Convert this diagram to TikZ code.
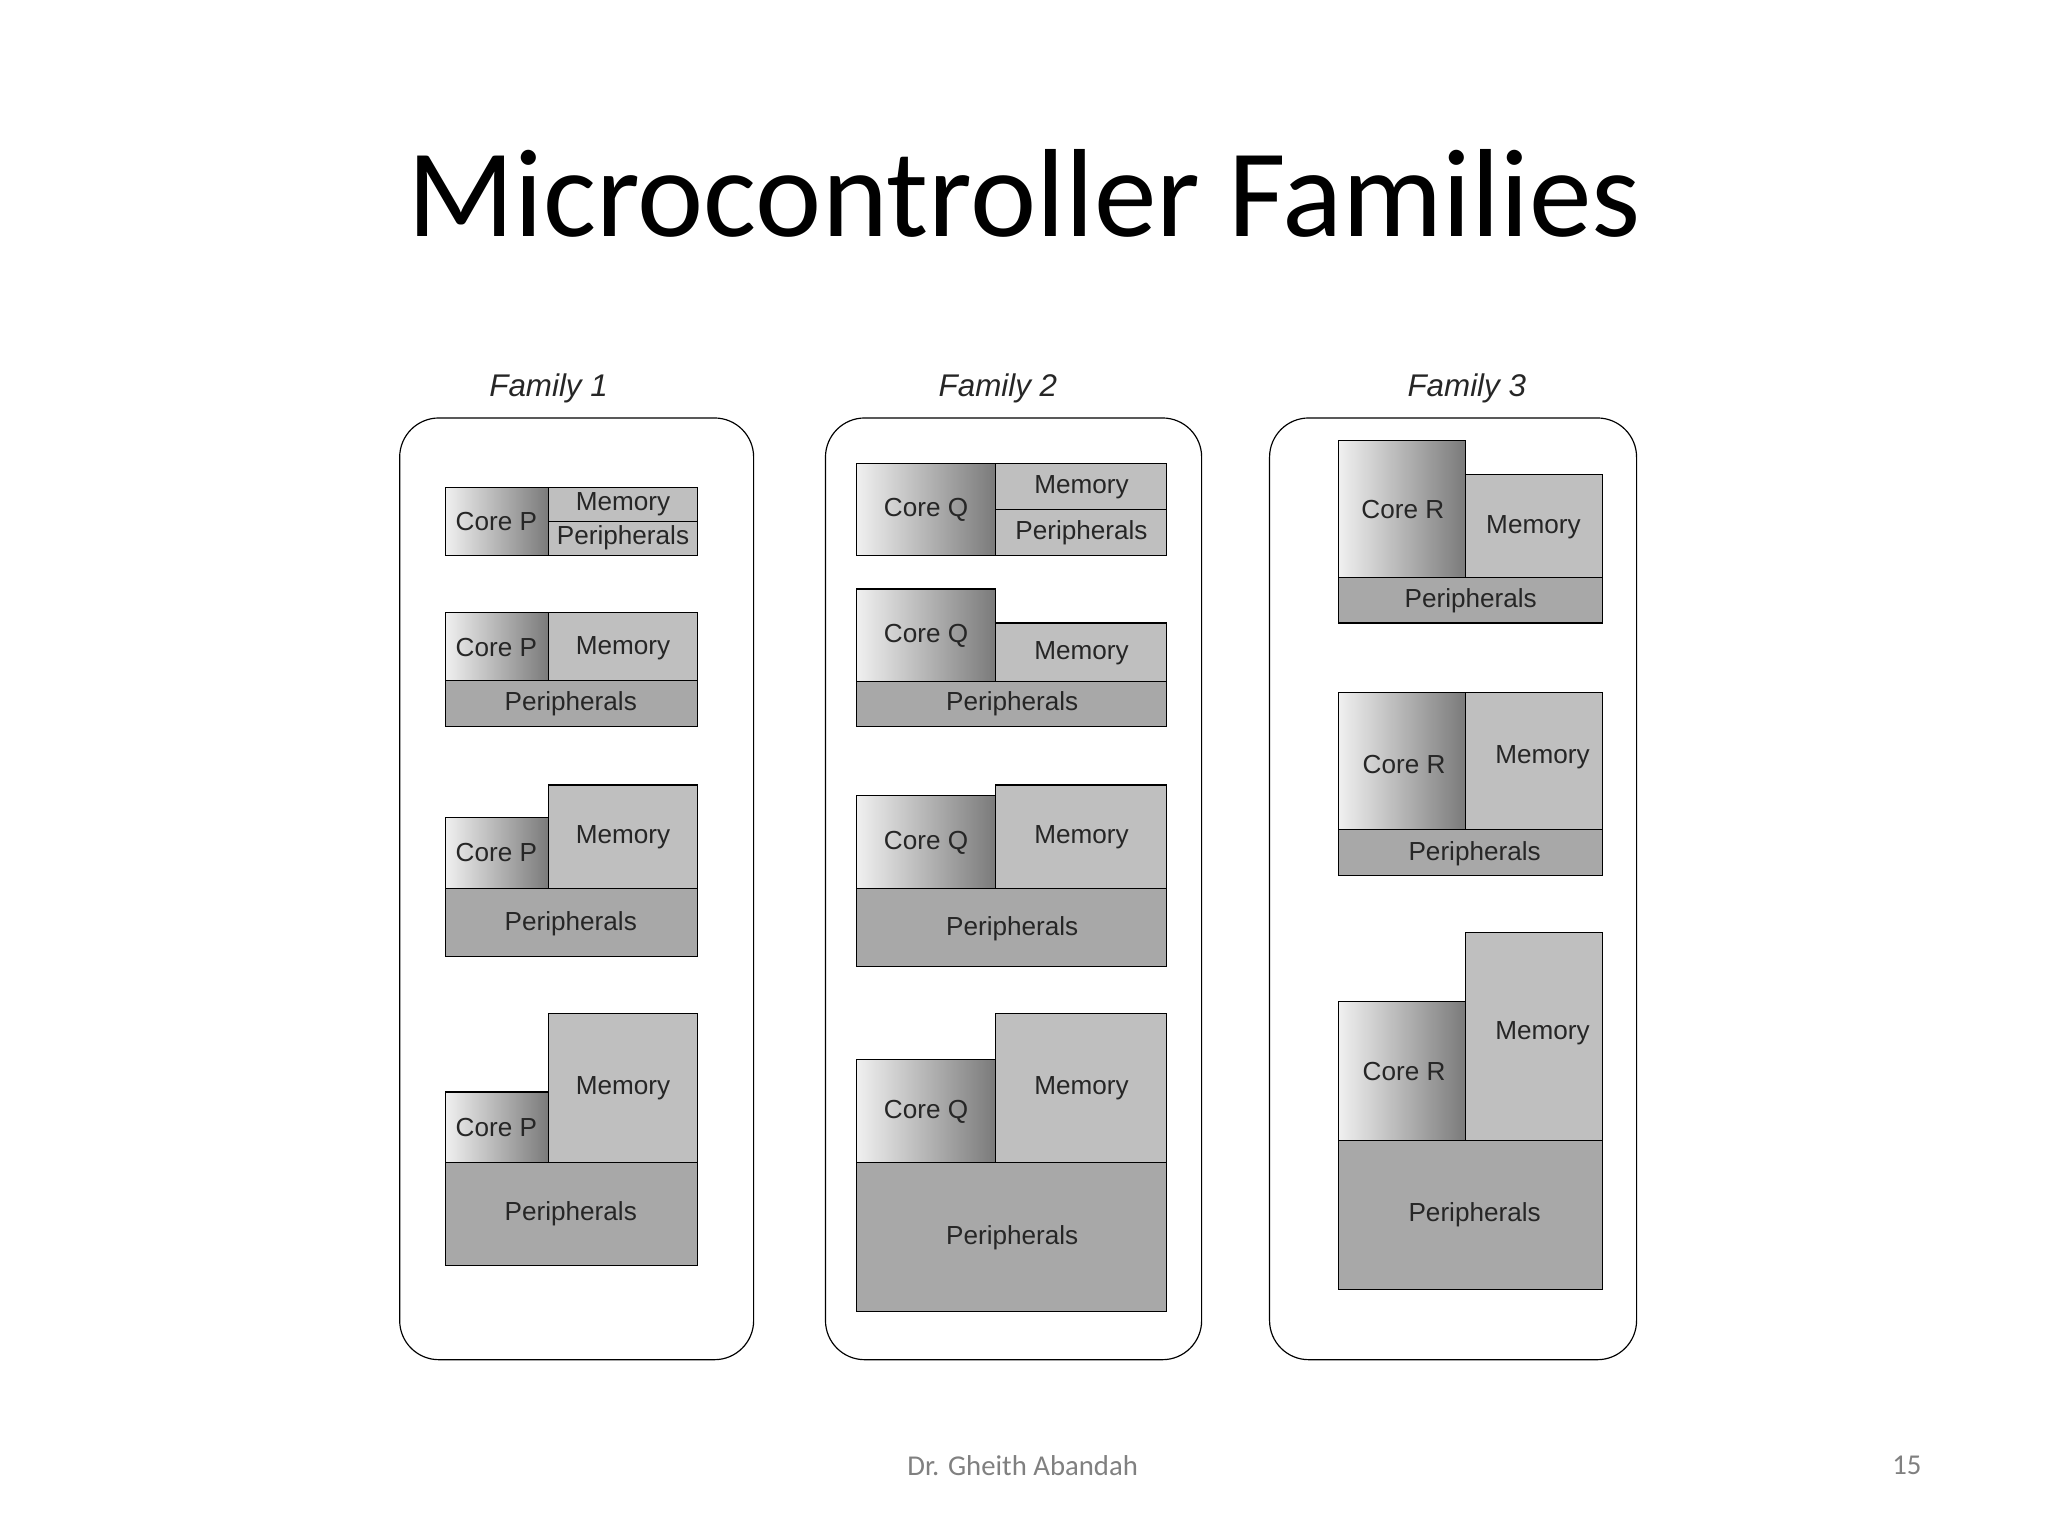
\documentclass[tikz,border=0pt]{standalone}
\usepackage{fontspec}
\setmainfont{Liberation Sans}
\newfontfamily\titlefont{Carlito}
\begin{document}
\begin{tikzpicture}[x=1pt,y=-1pt,
 core/.style={draw=black,line width=0.9pt,left color=gray!12,right color=gray!70!black!80},
 mem/.style={draw=black,line width=0.9pt,fill=gray!50},
 per/.style={draw=black,line width=0.9pt,fill=gray!68},
 fam/.style={draw=black,line width=0.9pt,rounded corners=30pt},
 lbl/.style={font=\fontsize{20}{22}\selectfont,text=black!85},
 flab/.style={font=\fontsize{24}{26}\selectfont\itshape,text=black!85}]
\useasboundingbox (0,0) rectangle (1568,1176);
\node[font=\titlefont\fontsize{96}{100}\selectfont] (title) at (784,148) {Microcontroller Families};
\node[flab] (f1) at (420,297) {Family 1};
\node[flab] (f2) at (764,297) {Family 2};
\node[flab] (f3) at (1123,297) {Family 3};
\draw[fam] (306,320) rectangle (577,1041);
\draw[fam] (632,320) rectangle (920,1041);
\draw[fam] (972,320) rectangle (1253,1041);
% Family 1
\draw[core] (341,373) rectangle (420,425); \draw[mem] (420,373) rectangle (534,399); \draw[mem] (420,399) rectangle (534,425);
\node[lbl] at (380,399) {Core P}; \node[lbl] at (477,386) {Memory}; \node[lbl] at (477,412) {Peripherals};
\draw[core] (341,469) rectangle (420,521); \draw[mem] (420,469) rectangle (534,521); \draw[per] (341,521) rectangle (534,556);
\node[lbl] at (380,496) {Core P}; \node[lbl] at (477,496) {Memory}; \node[lbl] at (437,539) {Peripherals};
\draw[core] (341,626) rectangle (420,680); \draw[mem] (420,601) rectangle (534,680); \draw[per] (341,680) rectangle (534,732);
\node[lbl] at (380,653) {Core P}; \node[lbl] at (477,641) {Memory}; \node[lbl] at (437,707) {Peripherals};
\draw[core] (341,836) rectangle (420,890); \draw[mem] (420,776) rectangle (534,890); \draw[per] (341,890) rectangle (534,969);
\node[lbl] at (380,863) {Core P}; \node[lbl] at (477,833) {Memory}; \node[lbl] at (437,929) {Peripherals};
% Family 2
\draw[core] (656,355) rectangle (762,425); \draw[mem] (762,355) rectangle (893,390); \draw[mem] (762,390) rectangle (893,425);
\node[lbl] at (709,390) {Core Q}; \node[lbl] at (828,373) {Memory}; \node[lbl] at (828,408) {Peripherals};
\draw[core] (656,451) rectangle (762,522); \draw[mem] (762,477) rectangle (893,522); \draw[per] (656,522) rectangle (893,556);
\node[lbl] at (709,487) {Core Q}; \node[lbl] at (828,500) {Memory}; \node[lbl] at (775,539) {Peripherals};
\draw[core] (656,609) rectangle (762,680); \draw[mem] (762,601) rectangle (893,680); \draw[per] (656,680) rectangle (893,740);
\node[lbl] at (709,645) {Core Q}; \node[lbl] at (828,641) {Memory}; \node[lbl] at (775,711) {Peripherals};
\draw[core] (656,811) rectangle (762,890); \draw[mem] (762,776) rectangle (893,890); \draw[per] (656,890) rectangle (893,1004);
\node[lbl] at (709,851) {Core Q}; \node[lbl] at (828,833) {Memory}; \node[lbl] at (775,948) {Peripherals};
% Family 3
\draw[core] (1025,337) rectangle (1122,442); \draw[mem] (1122,363) rectangle (1227,442); \draw[per] (1025,442) rectangle (1227,477);
\node[lbl] at (1074,390) {Core R}; \node[lbl] at (1174,404) {Memory}; \node[lbl] at (1126,460) {Peripherals};
\draw[core] (1025,530) rectangle (1122,635); \draw[mem] (1122,530) rectangle (1227,635); \draw[per] (1025,635) rectangle (1227,670);
\node[lbl] at (1075,585) {Core R}; \node[lbl] at (1181,580) {Memory}; \node[lbl] at (1129,654) {Peripherals};
\draw[core] (1025,767) rectangle (1122,873); \draw[mem] (1122,714) rectangle (1227,873); \draw[per] (1025,873) rectangle (1227,987);
\node[lbl] at (1075,820) {Core R}; \node[lbl] at (1181,791) {Memory}; \node[lbl] at (1129,930) {Peripherals};
\node[font=\titlefont\fontsize{22}{24}\selectfont,text=gray] (auth) at (783,1122) {Dr. Gheith Abandah};
\node[font=\titlefont\fontsize{22}{24}\selectfont,text=gray] (pg) at (1460,1122) {15};
\end{tikzpicture}
\end{document}
